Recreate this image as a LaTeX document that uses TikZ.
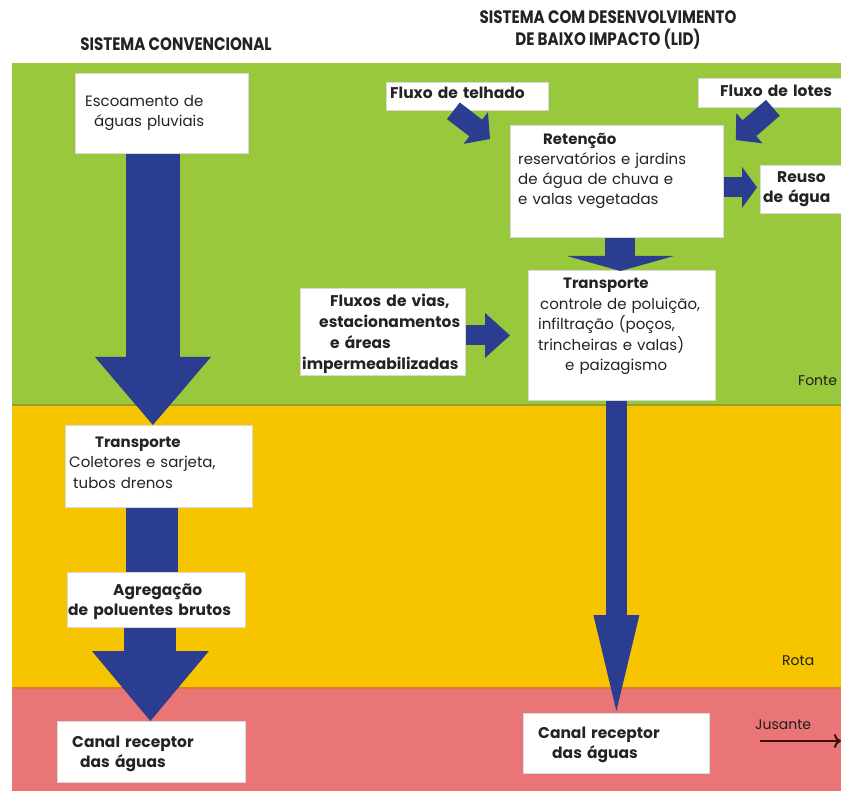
\documentclass[tikz,border=0pt]{standalone}
\usepackage{fontspec}
\setmainfont{Poppins}
\newfontfamily\titlefont{Poppins}[FakeStretch=0.84]
\usetikzlibrary{arrows.meta,calc}
\definecolor{bandgreen}{RGB}{154,200,60}
\definecolor{bandyellow}{RGB}{247,196,0}
\definecolor{bandpink}{RGB}{233,117,118}
\definecolor{arrowblue}{RGB}{42,61,145}
\definecolor{txtcol}{RGB}{35,35,35}
\definecolor{greenline}{RGB}{150,160,40}
\definecolor{pinkline}{RGB}{225,120,50}
\definecolor{jusline}{RGB}{60,15,15}
\tikzset{
  box/.style={draw=black!15, line width=0.8pt, fill=white, inner sep=0pt, anchor=north west},
  txt/.style={inner sep=0pt, anchor=base west, align=left, text width=240pt, text=txtcol,
              font=\fontsize{15}{20}\selectfont},
  btxt/.style={txt, font=\fontsize{15.5}{20}\selectfont\bfseries},
  lbl/.style={inner sep=0pt, anchor=base west, text=txtcol!85!black, font=\fontsize{14}{16}\selectfont},
  ttl/.style={inner sep=0pt, align=center, text=txtcol, font=\titlefont\bfseries\fontsize{18}{22}\selectfont},
  blk/.style args={#1/#2/#3}{draw=arrowblue, line width=#1pt,
     -{Triangle[length=#3pt, width=#2pt, line width=0pt]}},
  shaft/.style={draw=arrowblue, line width=#1pt}
}
\begin{document}
\begin{tikzpicture}[x=1pt,y=-1pt]
\useasboundingbox (0,0) rectangle (841,791);
% bands
\fill[bandgreen] (12,63) rectangle (841,405);
\fill[bandyellow] (12,405) rectangle (841,688);
\fill[bandpink] (12,688) rectangle (841,791);
\draw[greenline, line width=1.5pt] (12,405) -- (841,405);
\draw[pinkline, line width=1.5pt] (12,688) -- (841,688);

% titles
\node[ttl] (t1) at (176,44) {SISTEMA CONVENCIONAL};
\node[ttl] (t2) at (608,30) {SISTEMA COM DESENVOLVIMENTO\\DE BAIXO IMPACTO (LID)};

% left column boxes
\node[box, minimum width=173pt, minimum height=80pt] (esc) at (75,73) {};
\node[box, minimum width=187pt, minimum height=82pt] (tl) at (65,425) {};
\node[box, minimum width=178pt, minimum height=55pt] (ag) at (67,572) {};
\node[box, minimum width=188pt, minimum height=61pt] (cl) at (57,721) {};

% right column boxes
\node[box, minimum width=162pt, minimum height=28pt] (tel) at (386,82) {};
\node[box, minimum width=145pt, minimum height=29pt] (lot) at (698,78) {};
\node[box, minimum width=213pt, minimum height=112pt] (ret) at (510,125) {};
\node[box, minimum width=83pt, minimum height=48pt] (reu) at (760,165) {};
\node[box, minimum width=165pt, minimum height=87pt] (via) at (300,288) {};
\node[box, minimum width=187pt, minimum height=130pt] (tr) at (528,270) {};
\node[box, minimum width=186pt, minimum height=60pt] (cr) at (523,713) {};

% texts
\node[txt] (escT) at (85,107) {Escoamento de\\\hspace*{9pt}águas pluviais};
\node[txt] (tlT) at (69,448) {\hspace*{26pt}\textbf{Transporte}\\Coletores e sarjeta,\\\hspace*{4pt}tubos drenos};
\node[btxt] (agT) at (68,595) {\hspace*{45pt}Agregação\\de poluentes brutos};
\node[btxt] (clT) at (72,747) {Canal receptor\\\hspace*{8pt}das águas};
\node[btxt] (telT) at (390,99) {Fluxo de telhado};
\node[btxt] (lotT) at (720,97) {Fluxo de lotes};
\node[txt] (retT) at (518,145) {\hspace*{25pt}\textbf{Retenção}\\reservatórios e jardins\\de água de chuva e\\e valas vegetadas};
\node[btxt] (reuT) at (763,183) {\hspace*{14pt}Reuso\\de água};
\node[btxt, font=\fontsize{15.5}{21}\selectfont\bfseries] (viaT) at (302,307) {\hspace*{28pt}Fluxos de vias,\\\hspace*{17pt}estacionamentos\\\hspace*{28pt}e áreas\\impermeabilizadas};
\node[txt, font=\fontsize{15}{20.5}\selectfont] (trT) at (538,289) {\hspace*{25pt}\textbf{Transporte}\\\hspace*{2pt}controle de poluição,\\infiltração (poços,\\trincheiras e valas)\\\hspace*{27pt}e paizagismo};
\node[btxt] (crT) at (538,738) {Canal receptor\\\hspace*{14pt}das águas};

% zone labels
\node[lbl] (fonte) at (798,386) {Fonte};
\node[lbl] (rota) at (782,665) {Rota};
\node[lbl] (jus) at (755,729) {Jusante};

% left arrows
\draw[blk=54/116/68] ($(esc.south)+(-9,0)$) -- ($(tl.north)+(-6,0)$);
\draw[shaft=52] ($(tl.south)+(-6.5,0)$) -- ($(ag.north)+(-4,0)$);
\draw[blk=52/117/70] ($(ag.south)+(-6,0)$) -- ($(cl.north)+(-1,0)$);

% right arrows
\coordinate (telEnd) at ($(ret.north west)+(-20,14)$);
\draw[blk=21/40/18] ($(tel.south)+(-14,0)$) -- (telEnd);
\coordinate (lotEnd) at ($(ret.north east)+(12,15)$);
\draw[blk=21/40/18] ($(lot.south)+(2,0)$) -- (lotEnd);
\draw[blk=20/41/15] ($(ret.east)+(0,6)$) -- ($(reu.west)+(-3,-2)$);
\draw[blk=30/107/15] ($(ret.south)+(3.5,0)$) -- ($(tr.north)+(-1.5,1)$);
\coordinate (viaEnd) at ($(tr.west)+(-18,0)$);
\draw[blk=20/45/25] ($(via.east)+(0,3.5)$) -- (viaEnd);
\draw[blk=21/46/96] ($(tr.south)+(-5.5,0)$) -- ($(cr.north)+(0,-2)$);

% jusante arrow
\coordinate (jStart) at (760,741);
\coordinate (jEnd) at (841,741);
\draw[jusline, line width=2pt, -{To[length=7pt,width=14pt]}] (jStart) -- (jEnd);
\end{tikzpicture}
\end{document}
